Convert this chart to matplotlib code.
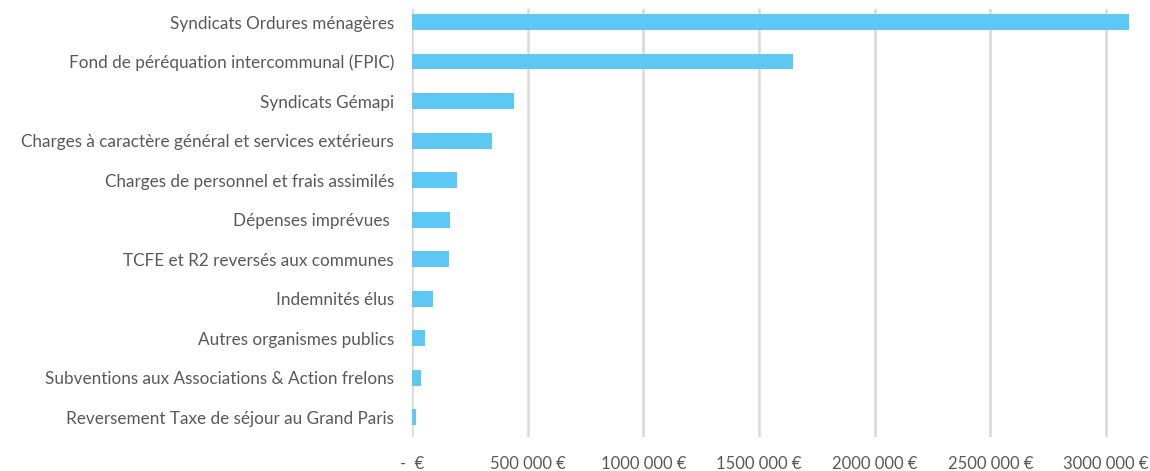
import matplotlib
matplotlib.use("Agg")
import matplotlib.pyplot as plt

categories = [
    "Syndicats Ordures ménagères",
    "Fond de péréquation intercommunal (FPIC)",
    "Syndicats Gémapi",
    "Charges à caractère général et services extérieurs",
    "Charges de personnel et frais assimilés",
    "Dépenses imprévues ",
    "TCFE et R2 reversés aux communes",
    "Indemnités élus",
    "Autres organismes publics",
    "Subventions aux Associations & Action frelons",
    "Reversement Taxe de séjour au Grand Paris",
]
values = [3100000, 1648000, 439000, 345000, 194000, 166000, 160000, 90000, 55000, 40000, 17000]
tick_values = [0, 500000, 1000000, 1500000, 2000000, 2500000, 3000000]
tick_labels = ["-  €", "500 000 €", "1000 000 €", "1500 000 €", "2000 000 €", "2500 000 €", "3000 000 €"]

plt.rcParams['font.family'] = ['Lato', 'DejaVu Sans']
text_color = "#595959"

fig = plt.figure(figsize=(11.5, 4.71), dpi=100)
ax = fig.add_axes([412/1150, 1 - 437/471, 1 - 412/1150, (437 - 9)/471])

ypos = list(range(len(categories)))
ax.barh(ypos, values, height=0.4, color="#5DC8F3", zorder=3)
ax.set_yticks(ypos)
ax.set_yticklabels(categories, fontsize=12.35, color=text_color)
ax.set_ylim(10.5, -0.33)
ax.set_xlim(0, 3190000)
ax.set_xticks(tick_values)
ax.set_xticklabels(tick_labels, fontsize=12, color=text_color)
ax.tick_params(axis='y', length=0, pad=13)
ax.tick_params(axis='x', length=0, pad=14)
ax.grid(axis='x', color="#D9D9D9", linewidth=1.8, zorder=0)
for s in ax.spines.values():
    s.set_visible(False)

fig.savefig("out.png", dpi=100)
